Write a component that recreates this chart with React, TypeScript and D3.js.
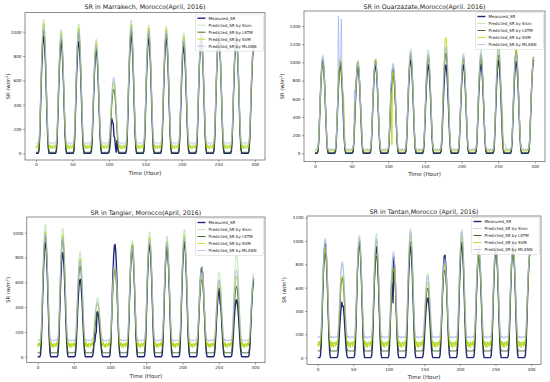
import * as d3 from 'd3';
import { useEffect, useRef } from 'react';

const seriesNames = ['Measured_SR', 'Predicted_SR by Slsm', 'Predicted_SR by LSTM', 'Predicted_SR by SVM', 'Predicted_SR by MLANN'];
const seriesColors = ['#25257a', '#b5e0a5', '#2d5e1e', '#b4d400', '#a9b2f5'];
const seriesWidths = [1.4, 0.8, 0.9, 0.8, 0.8];

const hourTicks = [0, 50, 100, 150, 200, 250, 300];

// shape of one day (hour of day 0..23)
const dayProfile = [0, 0, 0, 0, 0.02, 0.12, 0.32, 0.55, 0.75, 0.9, 0.99, 1.0, 0.92, 0.78, 0.58, 0.36, 0.16, 0.04, 0, 0, 0, 0, 0, 0];
// wobble of the predicted lines during the night
const nightJitter = [0.2, -0.6, 0.8, -0.3, 0.5, 0, 0, 0, 0, 0, 0, 0, 0, 0, 0, 0, 0, 0, -0.4, 0.9, -0.7, 0.3, -0.9, 0.6];

// Marrakech: daily peaks per series
const marrakechMeasured = [960, 918, 918, 850, 290, 973, 945, 945, 877, 950, 955, 945, 880];
const marrakechSlsm = [1100, 1020, 1063, 937, 600, 1096, 1055, 1047, 992, 1000, 1010, 1000, 950];
const marrakechLstm = [1010, 937, 986, 863, 526, 1014, 986, 986, 918, 960, 970, 960, 880];
const marrakechSvm = [1070, 990, 1030, 910, 575, 1060, 1030, 1020, 960, 980, 990, 980, 920];
const marrakechMlann = [1040, 970, 1010, 890, 625, 1040, 1010, 1000, 940, 970, 980, 970, 900];
const marrakechNight = [0, 65, 8, 50, 85];
const marrakechJitter = [0, 10, 0, 15, 5];
const marrakechEvents: [number, number, number][] = [
    [0, 103, 230], [0, 104, 285], [0, 105, 255], [0, 106, 245], [0, 107, 140], [0, 108, 128], [0, 109, 50], [0, 110, 10],
];
const marrakechTicks = [0, 200, 400, 600, 800, 1000];

// Ouarzazate
const ouarzazateMeasured = [1000, 971, 953, 971, 934, 1026, 971, 971, 971, 982, 1019, 1008, 1026];
const ouarzazateSlsm = [1080, 1000, 1026, 1044, 960, 1154, 1143, 1150, 1100, 1143, 1150, 1143, 1081];
const ouarzazateLstm = [1030, 1010, 1000, 1020, 850, 1080, 1050, 1100, 1040, 1060, 1080, 1130, 1060];
const ouarzazateSvm = [990, 1040, 1010, 1030, 900, 1100, 1080, 1275, 1050, 1080, 1150, 1140, 1060];
const ouarzazateMlann = [1060, 1050, 1000, 1010, 990, 1120, 1100, 1172, 1080, 1100, 1230, 1100, 1050];
const ouarzazateNight = [0, 40, 10, 30, 45];
const ouarzazateJitter = [0, 6, 0, 8, 6];
const ouarzazateEvents: [number, number, number][] = [
    [4, 32, 1510], [4, 36, 1475], [4, 37, 900], [3, 38, 680], [3, 39, 650], [3, 40, 400],
    [4, 54, 700], [4, 64, 310], [3, 105, 95],
    [3, 255, 590], [3, 256, 450], [4, 257, 150], [4, 258, 110], [4, 259, 100], [4, 260, 90],
];
const ouarzazateTicks = [0, 200, 400, 600, 800, 1000, 1200, 1400];

// Tangier
const tangierMeasured = [919, 839, 624, 360, 906, 900, 906, 892, 927, 720, 530, 460, 624];
const tangierSlsm = [1067, 1035, 847, 476, 731, 938, 1008, 973, 1027, 731, 680, 830, 677];
const tangierLstm = [973, 938, 731, 368, 700, 852, 911, 892, 933, 624, 556, 570, 600];
const tangierSvm = [1010, 980, 790, 430, 720, 900, 960, 930, 980, 660, 600, 650, 640];
const tangierMlann = [990, 960, 770, 440, 760, 880, 940, 920, 960, 680, 620, 700, 650];
const tangierNight = [0, 100, 32, 95, 132];
const tangierJitter = [0, 12, 0, 25, 8];
const tangierEvents: [number, number, number][] = [
    [0, 79, 120], [0, 80, 180], [0, 81, 200], [0, 252, 430],
];
const tangierTicks = [0, 200, 400, 600, 800, 1000];

// Tantan
const tantanMeasured = [979, 480, 993, 950, 860, 950, 511, 879, 979, 900, 950, 950, 900];
const tantanSlsm = [1010, 800, 1050, 1064, 880, 1106, 723, 808, 1100, 950, 980, 980, 920];
const tantanLstm = [894, 687, 965, 870, 780, 993, 596, 752, 993, 880, 920, 920, 880];
const tantanSvm = [950, 700, 1000, 1000, 766, 1050, 650, 800, 1050, 900, 950, 950, 900];
const tantanMlann = [1021, 823, 1030, 1020, 908, 1080, 700, 850, 1080, 950, 980, 980, 920];
const tantanNight = [0, 128, 57, 113, 176];
const tantanJitter = [0, 15, 0, 30, 10];
const tantanEvents: [number, number, number][] = [
    [0, 35, 440], [0, 105, 600], [0, 106, 470],
];
const tantanTicks = [0, 200, 400, 600, 800, 1000, 1200];

const panels = [
    {
        title: 'SR in Marrakech, Morocco(April, 2016)',
        peaks: [marrakechMeasured, marrakechSlsm, marrakechLstm, marrakechSvm, marrakechMlann],
        night: marrakechNight, jitter: marrakechJitter, events: marrakechEvents, yTicks: marrakechTicks,
        yDomain: [-55, 1156], left: 25, right: 265, top: 12.7, bottom: 160, titleY: 8.5, xLabelY: 174.5, yLabelX: 10,
    },
    {
        title: 'SR in Ouarzazate,Morocco(April. 2016)',
        peaks: [ouarzazateMeasured, ouarzazateSlsm, ouarzazateLstm, ouarzazateSvm, ouarzazateMlann],
        night: ouarzazateNight, jitter: ouarzazateJitter, events: ouarzazateEvents, yTicks: ouarzazateTicks,
        yDomain: [-92, 1565], left: 304, right: 545, top: 11, bottom: 161.7, titleY: 8.5, xLabelY: 175.5, yLabelX: 284,
    },
    {
        title: 'SR in Tangier, Morocco(April, 2016)',
        peaks: [tangierMeasured, tangierSlsm, tangierLstm, tangierSvm, tangierMlann],
        night: tangierNight, jitter: tangierJitter, events: tangierEvents, yTicks: tangierTicks,
        yDomain: [-48, 1127], left: 26.8, right: 265, top: 217, bottom: 362.7, titleY: 215, xLabelY: 377.5, yLabelX: 10,
    },
    {
        title: 'SR in Tantan,Morocco (April, 2016)',
        peaks: [tantanMeasured, tantanSlsm, tantanLstm, tantanSvm, tantanMlann],
        night: tantanNight, jitter: tantanJitter, events: tantanEvents, yTicks: tantanTicks,
        yDomain: [-57, 1214], left: 307, right: 541, top: 216, bottom: 364.3, titleY: 213.5, xLabelY: 379, yLabelX: 286,
    },
];

function buildSeries(peaks: number[], night: number, amp: number) {
    return d3.range(300).map((h) => {
        const d = Math.floor(h / 24);
        const p = dayProfile[h % 24];
        const base = night + amp * nightJitter[h % 24];
        return base + (peaks[d] - base) * p;
    });
}

export default function App() {
    const svgRef = useRef<SVGSVGElement>(null);
    const width = 550;
    const height = 382;

    useEffect(() => {
        const svg = d3.select(svgRef.current);
        svg.selectAll('*').remove();
        svg.append('rect').attr('width', width).attr('height', height).attr('fill', 'white');

        panels.forEach((pn, k) => {
            const x = d3.scaleLinear().domain([-15, 314]).range([pn.left, pn.right]);
            const y = d3.scaleLinear().domain(pn.yDomain).range([pn.bottom, pn.top]);
            const g = svg.append('g');

            g.append('clipPath').attr('id', `clip${k}`)
                .append('rect')
                .attr('x', pn.left).attr('y', pn.top)
                .attr('width', pn.right - pn.left).attr('height', pn.bottom - pn.top);

            const series = pn.peaks.map((pk, s) => buildSeries(pk, pn.night[s], pn.jitter[s]));
            pn.events.forEach(([s, h, v]) => { series[s][h] = v; });

            const line = d3.line<number>().x((_, i) => x(i)).y((v) => y(v));
            const lines = g.append('g').attr('clip-path', `url(#clip${k})`);
            series.forEach((vals, s) => {
                lines.append('path')
                    .attr('d', line(vals))
                    .attr('fill', 'none')
                    .attr('stroke', seriesColors[s])
                    .attr('stroke-width', seriesWidths[s])
                    .attr('stroke-linejoin', 'round');
            });

            g.append('rect')
                .attr('x', pn.left).attr('y', pn.top)
                .attr('width', pn.right - pn.left).attr('height', pn.bottom - pn.top)
                .attr('fill', 'none').attr('stroke', '#444').attr('stroke-width', 0.6);

            const xAxis = g.append('g')
                .attr('transform', `translate(0, ${pn.bottom})`)
                .call(d3.axisBottom(x).tickValues(hourTicks).tickFormat(d3.format('d')).tickSize(2).tickPadding(1.5));
            const yAxis = g.append('g')
                .attr('transform', `translate(${pn.left}, 0)`)
                .call(d3.axisLeft(y).tickValues(pn.yTicks).tickFormat(d3.format('d')).tickSize(2).tickPadding(1.5));
            [xAxis, yAxis].forEach((ax) => {
                ax.select('.domain').remove();
                ax.selectAll('line').attr('stroke', '#444').attr('stroke-width', 0.5);
                ax.selectAll('text')
                    .attr('fill', '#222')
                    .style('font-family', 'DejaVu Sans')
                    .style('font-size', '4.2px');
            });

            g.append('text')
                .attr('x', (pn.left + pn.right) / 2)
                .attr('y', pn.titleY)
                .attr('text-anchor', 'middle')
                .style('font-family', 'DejaVu Sans')
                .style('font-size', '6.3px')
                .attr('fill', '#222')
                .text(pn.title);

            g.append('text')
                .attr('x', (pn.left + pn.right) / 2)
                .attr('y', pn.xLabelY)
                .attr('text-anchor', 'middle')
                .style('font-family', 'DejaVu Sans')
                .style('font-size', '5.5px')
                .attr('fill', '#222')
                .text('Time (Hour)');

            const yl = g.append('text')
                .attr('transform', `translate(${pn.yLabelX}, ${(pn.top + pn.bottom) / 2}) rotate(-90)`)
                .attr('text-anchor', 'middle')
                .style('font-family', 'DejaVu Sans')
                .style('font-size', '5.2px')
                .attr('fill', '#222');
            yl.append('tspan').text('SR (w/m');
            yl.append('tspan').attr('dy', -1.6).style('font-size', '3.4px').text('2');
            yl.append('tspan').attr('dy', 1.6).text(')');

            // legend, upper right
            const lw = 68;
            const lx = pn.right - 1.5 - lw;
            const ly = pn.top + 1.5;
            const lg = g.append('g');
            lg.append('rect')
                .attr('x', lx).attr('y', ly).attr('width', lw).attr('height', 37)
                .attr('rx', 1).attr('fill', 'white').attr('fill-opacity', 0.8)
                .attr('stroke', '#d0d0d0').attr('stroke-width', 0.5);
            seriesNames.forEach((name, s) => {
                const ry = ly + 4 + s * 7;
                lg.append('line')
                    .attr('x1', lx + 2).attr('x2', lx + 10).attr('y1', ry).attr('y2', ry)
                    .attr('stroke', seriesColors[s]).attr('stroke-width', seriesWidths[s]);
                lg.append('text')
                    .attr('x', lx + 13).attr('y', ry + 1.4)
                    .style('font-family', 'DejaVu Sans')
                    .style('font-size', '4px')
                    .attr('fill', '#222')
                    .text(name);
            });
        });
    }, []);

    return (
        <svg ref={svgRef} width={width} height={height}
            style={{ position: 'absolute', left: 0, top: 0 }}></svg>
    );
}
